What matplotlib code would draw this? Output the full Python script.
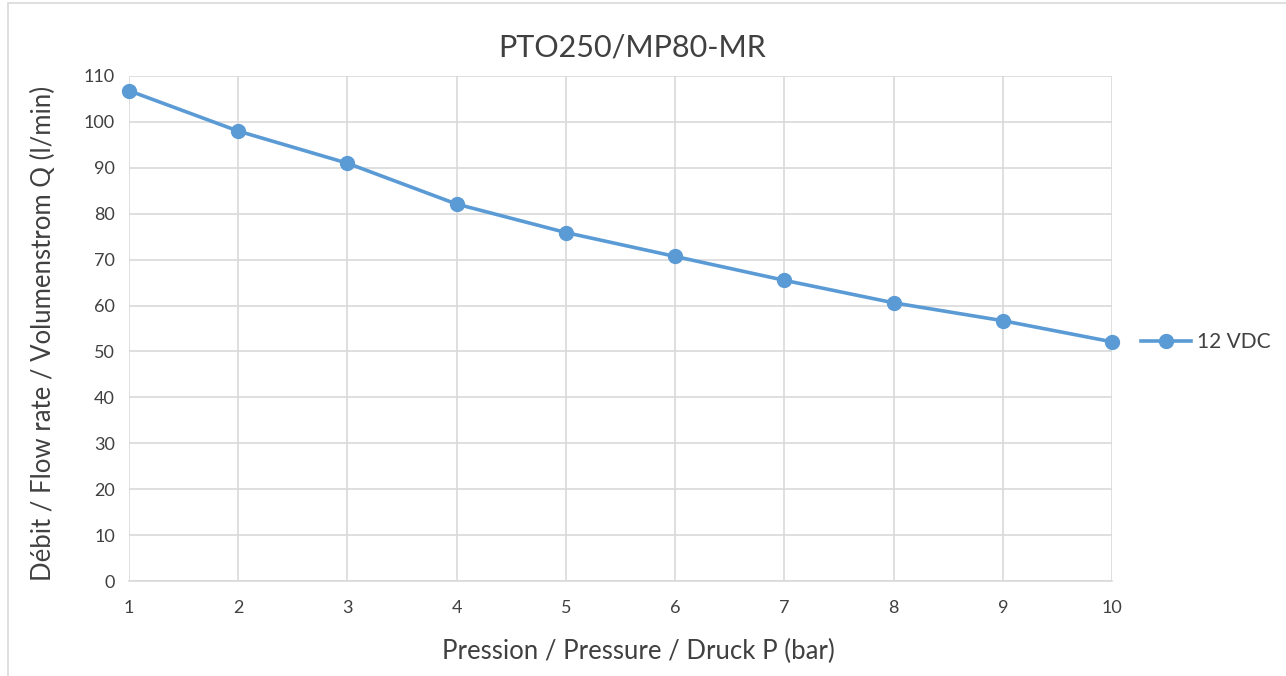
import numpy as np
import matplotlib.pyplot as plt
from matplotlib.patches import Rectangle

plt.rcParams['font.family'] = ['Lato', 'DejaVu Sans']

pressure = [1, 2, 3, 4, 5, 6, 7, 8, 9, 10]
flow_12vdc = [106.8, 98.0, 91.0, 82.1, 75.9, 70.7, 65.5, 60.6, 56.7, 52.1]
series_name = '12 VDC'
title = 'PTO250/MP80-MR'
xlabel = 'Pression / Pressure / Druck P (bar)'
ylabel = 'Débit / Flow rate / Volumenstrom Q (l/min)'

blue = '#5B9BD5'
grid_col = '#D9D9D9'
text_col = '#404040'

fig = plt.figure(figsize=(12.86, 6.76), dpi=100)
ax = fig.add_axes([0.1003, 0.1405, 0.7644, 0.7471])

# chart border (only partly visible in the reference)
fig.add_artist(Rectangle((0.006, -0.01), 1.0, 1.005, transform=fig.transFigure,
                         fill=False, edgecolor='#D9D9D9', linewidth=1.2))

ax.plot(pressure, flow_12vdc, color=blue, linewidth=2.6, marker='o',
        markersize=10, label=series_name, clip_on=False, zorder=3)

ax.set_xlim(1, 10)
ax.set_ylim(0, 110)
ax.set_xticks(pressure)
ax.set_yticks(np.arange(0, 111, 10))
ax.grid(True, color=grid_col, linewidth=1.2)
ax.set_axisbelow(True)
for s in ['top', 'right', 'left']:
    ax.spines[s].set_visible(False)
ax.spines['bottom'].set_color(grid_col)
ax.spines['bottom'].set_linewidth(1.2)
ax.tick_params(length=0, labelsize=13, colors=text_col, pad=14)
ax.tick_params(axis='y', pad=10)

ax.set_title(title, fontsize=22, color=text_col, pad=14, x=0.512)
ax.set_xlabel(xlabel, fontsize=18.5, color=text_col)
ax.xaxis.set_label_coords(0.518, -0.115)
ax.set_ylabel(ylabel, fontsize=18.5, color=text_col)
ax.yaxis.set_label_coords(-0.074, 0.49)

ax.legend(loc='center left', bbox_to_anchor=(1.01, 0.473), frameon=False,
          fontsize=15, labelcolor=text_col, handlelength=2.4, handletextpad=0.3)

fig.savefig('out.png', dpi=100)
